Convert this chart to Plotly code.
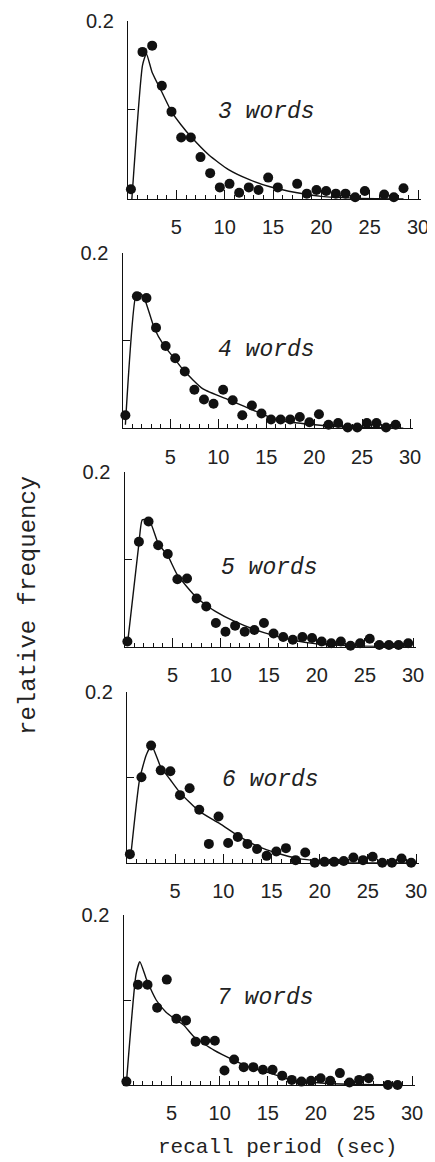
import plotly.graph_objects as go

# ---------------- data ----------------
recall_x = [0.3, 1.5, 2.5, 3.5, 4.5, 5.5, 6.5, 7.5, 8.5, 9.5,
            10.5, 11.5, 12.5, 13.5, 14.5, 15.5, 16.5, 17.5, 18.5, 19.5,
            20.5, 21.5, 22.5, 23.5, 24.5, 25.5, 26.5, 27.5, 28.5, 29.5]

freq_3 = [0.011, 0.165, 0.172, 0.127, 0.098, 0.069, 0.069, 0.047, 0.029, 0.013,
          0.017, 0.007, 0.013, 0.010, 0.024, 0.013, None, 0.017, 0.006, 0.010,
          0.009, 0.006, 0.006, 0.002, 0.009, None, 0.005, 0.002, 0.012, None]
freq_4 = [0.015, 0.151, 0.149, 0.115, 0.094, 0.080, 0.065, 0.044, 0.033, 0.028,
          0.044, 0.032, 0.015, 0.026, 0.017, 0.010, 0.010, 0.010, 0.013, 0.007,
          0.016, 0.004, 0.006, 0.001, 0.001, 0.006, 0.006, 0.001, 0.004, None]
freq_5 = [0.006, 0.120, 0.143, 0.116, 0.106, 0.077, 0.078, 0.055, 0.046, 0.027,
          0.017, 0.024, 0.017, 0.019, 0.027, 0.015, 0.011, 0.008, 0.011, 0.010,
          0.006, 0.004, 0.006, 0.001, 0.004, 0.009, 0.002, 0.002, 0.002, 0.004]
freq_6 = [0.010, 0.100, 0.137, 0.108, 0.107, 0.079, 0.087, 0.062, 0.022, 0.054,
          0.023, 0.030, 0.022, 0.016, 0.008, 0.013, 0.017, 0.003, 0.012, 0.000,
          0.001, 0.001, 0.002, 0.006, 0.003, 0.007, 0.000, 0.000, 0.005, 0.000]
freq_7 = [0.004, 0.118, 0.118, 0.091, 0.124, 0.078, 0.076, 0.051, 0.052, 0.052,
          0.017, 0.030, 0.021, 0.021, 0.018, 0.018, 0.011, 0.006, 0.004, 0.005,
          0.008, 0.005, 0.014, 0.003, 0.006, 0.008, None, 0.000, 0.000, None]

fit_3_x = [0.4, 1.5, 1.9, 2.5, 3.5, 4.5, 5.5, 6.5, 8.4, 10.4, 12.5, 14.6, 17.5, 20.0, 23.3, 28.5]
fit_3_y = [0.0, 0.150, 0.163, 0.142, 0.120, 0.098, 0.083, 0.070, 0.049, 0.033, 0.022, 0.014, 0.007, 0.003, 0.001, 0.0]
fit_4_x = [0.3, 1.4, 1.8, 2.3, 3.3, 4.3, 5.4, 6.4, 8.4, 11.2, 14.0, 16.1, 19.2, 22.4, 29.3]
fit_4_y = [0.004, 0.152, 0.155, 0.148, 0.115, 0.095, 0.080, 0.066, 0.045, 0.032, 0.019, 0.0095, 0.005, 0.002, 0.0]
fit_5_x = [0.3, 1.5, 1.85, 2.6, 3.5, 4.5, 5.5, 7.5, 9.5, 11.5, 14.5, 17.4, 20.2, 23.6, 29.5]
fit_5_y = [0.002, 0.118, 0.145, 0.144, 0.118, 0.104, 0.082, 0.056, 0.040, 0.0286, 0.016, 0.0076, 0.003, 0.001, 0.0]
fit_6_x = [0.4, 1.3, 2.0, 2.55, 3.5, 4.5, 5.5, 7.5, 9.6, 11.6, 13.6, 15.65, 17.7, 20.0, 23.4, 29.6]
fit_6_y = [0.009, 0.097, 0.126, 0.137, 0.112, 0.097, 0.082, 0.060, 0.046, 0.031, 0.019, 0.011, 0.005, 0.002, 0.0004, 0.0]
fit_7_x = [0.3, 1.3, 1.7, 2.4, 3.4, 4.4, 5.3, 6.3, 7.3, 9.4, 11.5, 13.3, 15.35, 17.4, 20.2, 23.6, 28.8]
fit_7_y = [0.002, 0.130, 0.145, 0.124, 0.100, 0.086, 0.078, 0.070, 0.057, 0.041, 0.029, 0.020, 0.0137, 0.006, 0.0027, 0.0008, 0.0]

panel_labels = ["3 words", "4 words", "5 words", "6 words", "7 words"]
x_tick_vals = [5, 10, 15, 20, 25, 30]
x_tick_text = ["5", "10", "15", "20", "25", "30"]
y_tick_vals = [0.1, 0.2]
y_tick_text = ["", "0.2"]
x_title = "recall period (sec)"
y_title = "relative frequency"

# ---------------- layout geometry (page pixels) ----------------
PAGE_W, PAGE_H = 435, 1162
OFF = 8  # default body margin of the html page
W, H = PAGE_W - OFF, PAGE_H - OFF
# x pixel of value 0, x pixel of value 30, y pixel of 0, y pixel of 0.2
geom = [
    (128.0, 418.0, 199.0, 20.7),
    (122.5, 410.0, 428.3, 253.3),
    (124.5, 413.0, 646.7, 471.7),
    (127.0, 416.0, 862.7, 691.7),
    (123.5, 412.0, 1085.0, 915.0),
]
label_pos = [(266.7, 111.7), (266.7, 350.0), (269.0, 568.0), (270.0, 780.0), (265.0, 998.0)]
XMAX = 30.3


def px(xp):
    return (xp - OFF) / W


def py(yp):
    return 1 - (yp - OFF) / H


freqs = [freq_3, freq_4, freq_5, freq_6, freq_7]
fits = [(fit_3_x, fit_3_y), (fit_4_x, fit_4_y), (fit_5_x, fit_5_y),
        (fit_6_x, fit_6_y), (fit_7_x, fit_7_y)]

INK = "#111111"
fig = go.Figure()
layout = dict(
    width=W, height=H, autosize=False,
    margin=dict(l=0, r=0, t=0, b=0),
    paper_bgcolor="white", plot_bgcolor="white",
    showlegend=False,
    annotations=[],
)

for i in range(5):
    xa = "x" if i == 0 else f"x{i+1}"
    ya = "y" if i == 0 else f"y{i+1}"
    fx, fy = fits[i]
    fig.add_trace(go.Scatter(
        x=fx, y=fy, mode="lines", xaxis=xa, yaxis=ya,
        line=dict(color=INK, width=1.4, shape="spline", smoothing=0.5),
        cliponaxis=False, hoverinfo="skip"))
    fig.add_trace(go.Scatter(
        x=recall_x, y=freqs[i], mode="markers", xaxis=xa, yaxis=ya,
        marker=dict(color=INK, size=10, line=dict(width=0)),
        cliponaxis=False))
    x0, x30, yb, yt = geom[i]
    xend = x0 + (x30 - x0) * XMAX / 30.0
    xkey = "xaxis" if i == 0 else f"xaxis{i+1}"
    ykey = "yaxis" if i == 0 else f"yaxis{i+1}"
    layout[xkey] = dict(
        domain=[px(x0), px(xend)], range=[0, XMAX], anchor=ya,
        showline=True, linecolor=INK, linewidth=1.4,
        showgrid=False, zeroline=False,
        tickmode="array", tickvals=x_tick_vals, ticktext=x_tick_text,
        ticks="inside", ticklen=9, tickwidth=1.2, tickcolor=INK,
        minor=dict(tickmode="linear", tick0=0, dtick=1, ticks="inside",
                   ticklen=4, tickwidth=1, tickcolor=INK, showgrid=False),
        tickfont=dict(family="Liberation Sans", size=20, color="#222"),
        ticklabelstandoff=10, automargin=False, fixedrange=True,
    )
    layout[ykey] = dict(
        domain=[py(yb), py(yt)], range=[0, 0.2], anchor=xa,
        showline=True, linecolor=INK, linewidth=1.4,
        showgrid=False, zeroline=False,
        tickmode="array", tickvals=y_tick_vals, ticktext=y_tick_text,
        ticks="inside", ticklen=7, tickwidth=1.2, tickcolor=INK,
        tickfont=dict(family="Liberation Sans", size=20, color="#222"),
        ticklabelstandoff=9, automargin=False, fixedrange=True,
    )
    lx, ly = label_pos[i]
    layout["annotations"].append(dict(
        text=f"<i>{panel_labels[i]}</i>", xref="paper", yref="paper",
        x=px(lx), y=py(ly), xanchor="center", yanchor="middle",
        showarrow=False,
        font=dict(family="Liberation Mono", size=23, color="#222")))

layout["annotations"].append(dict(
    text=x_title, xref="paper", yref="paper", x=px(277), y=py(1147),
    xanchor="center", yanchor="middle", showarrow=False,
    font=dict(family="Liberation Mono", size=21, color="#222")))
layout["annotations"].append(dict(
    text=y_title, xref="paper", yref="paper", x=px(28), y=py(606),
    xanchor="center", yanchor="middle", showarrow=False, textangle=-90,
    font=dict(family="Liberation Mono", size=24, color="#222")))

fig.update_layout(**layout)
fig.write_html("out.html")
